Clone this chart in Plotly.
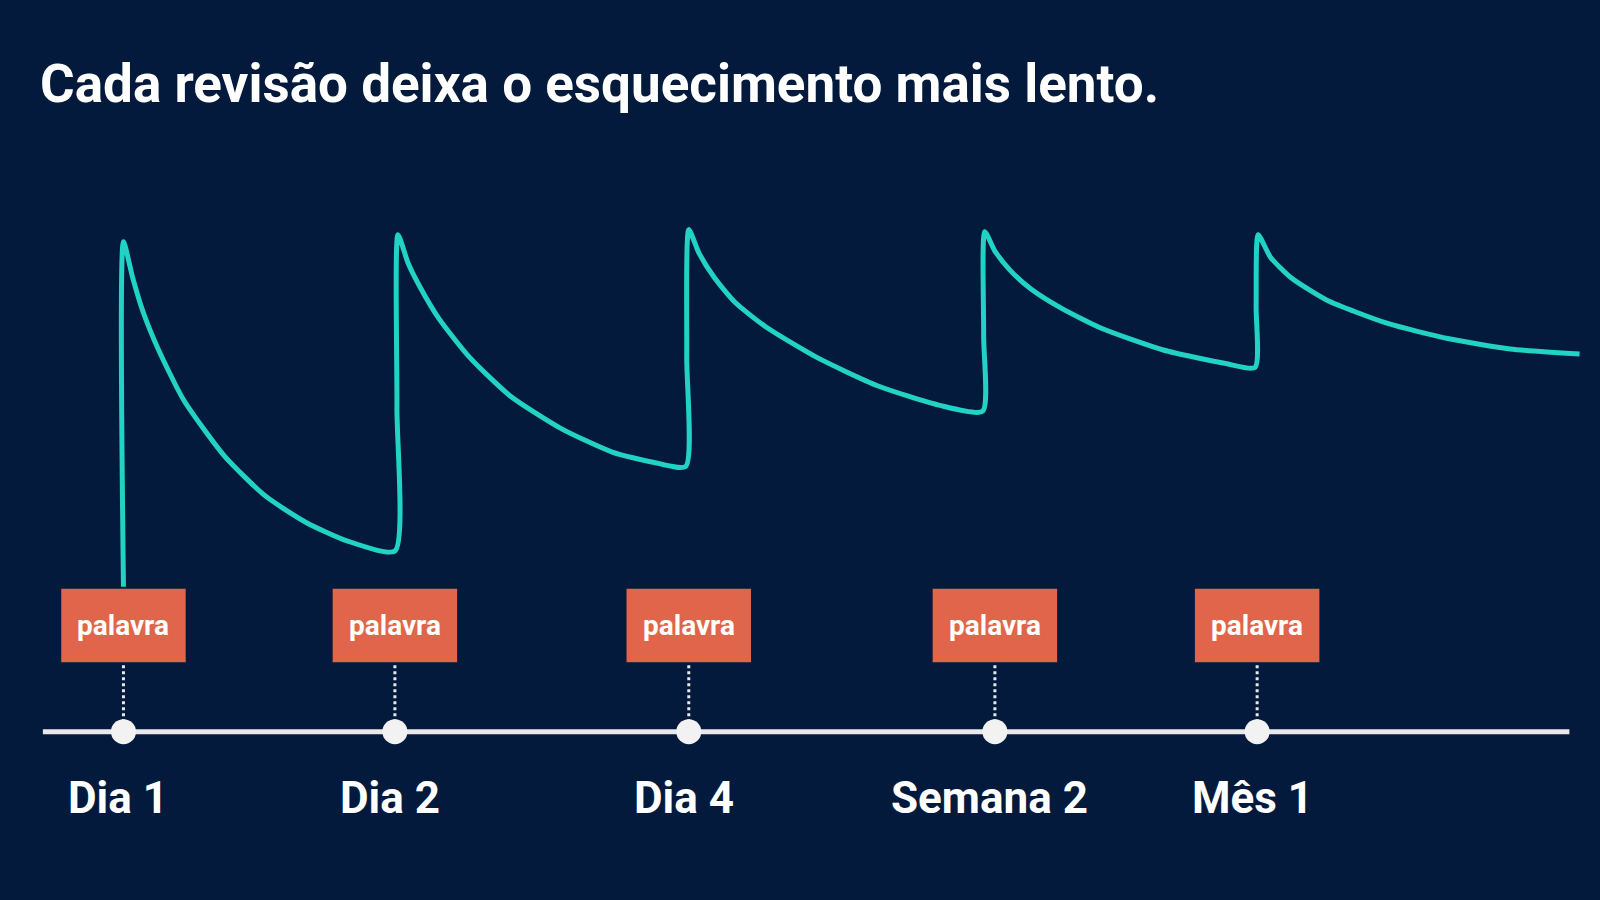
import plotly.graph_objects as go

# review moments (x position on the time axis) and labels
review_x = [121, 387, 675, 975, 1232]
review_labels = ["Dia 1", "Dia 2", "Dia 4", "Semana 2", "Mês 1"]
card_text = "palavra"

# forgetting curve (x = time, y = screen height, top = high memory)
curve_x = [121, 121, 130, 140, 155, 180, 220, 260, 300, 340, 387,
           389, 390, 400, 412, 430, 460, 500, 550, 600, 640, 672,
           673, 675, 685, 700, 720, 750, 800, 860, 920, 963,
           964, 965, 975, 990, 1010, 1040, 1080, 1140, 1200, 1230,
           1231, 1233, 1245, 1265, 1300, 1360, 1420, 1480, 1548]
curve_y = [575, 237, 272, 305, 342, 392, 447, 486, 512, 530, 540,
           400, 230, 258, 282, 312, 350, 388, 420, 443, 453, 457,
           350, 225, 248, 272, 296, 320, 350, 378, 397, 403,
           330, 227, 246, 265, 283, 302, 322, 343, 356, 360,
           300, 230, 252, 272, 294, 317, 332, 342, 347]

BG = "#031a3c"
TEAL = "#22d3c5"
ORANGE = "#e0654b"
LINE = "#e9e9ec"
FONT = "Liberation Sans Narrow, Roboto, sans-serif"

fig = go.Figure()

# timeline
fig.add_trace(go.Scatter(x=[42, 1538], y=[717, 717], mode="lines",
                         line=dict(color=LINE, width=5), hoverinfo="skip"))

# curve
fig.add_trace(go.Scatter(x=curve_x, y=curve_y, mode="lines",
                         line=dict(color=TEAL, width=5, shape="spline", smoothing=0.6),
                         hoverinfo="skip"))

# dotted connectors
for x in review_x:
    fig.add_trace(go.Scatter(x=[x, x], y=[652, 706], mode="lines",
                             line=dict(color=LINE, width=3, dash="dot"), hoverinfo="skip"))

# dots on timeline
fig.add_trace(go.Scatter(x=review_x, y=[717] * len(review_x), mode="markers",
                         marker=dict(color="#f2f2f2", size=25, line=dict(width=0)),
                         hoverinfo="skip"))

for x, lab in zip(review_x, review_labels):
    fig.add_shape(type="rect", x0=x - 61, x1=x + 61, y0=577, y1=649,
                  fillcolor=ORANGE, line=dict(width=0), layer="above")
    fig.add_annotation(x=x, y=613, text="<b>" + card_text + "</b>", showarrow=False,
                       font=dict(family=FONT, size=28, color="white"))
    fig.add_annotation(x=x - 5, y=782, text="<b>" + lab + "</b>", showarrow=False,
                       font=dict(family=FONT, size=44, color="white"))

fig.add_annotation(x=37, y=82, xanchor="left", text="<b>Cada revisão deixa o esquecimento mais lento.</b>",
                   showarrow=False, font=dict(family=FONT, size=53, color="white"))

fig.update_layout(
    width=1600, height=900,
    paper_bgcolor=BG, plot_bgcolor=BG,
    margin=dict(l=0, r=0, t=0, b=0),
    showlegend=False,
    xaxis=dict(range=[0, 1568], visible=False, fixedrange=True),
    yaxis=dict(range=[882, 0], visible=False, fixedrange=True),
)

fig.write_html("out.html", config={"displayModeBar": False},
               post_script="document.body.style.margin='0';document.body.style.background='#031a3c';")
